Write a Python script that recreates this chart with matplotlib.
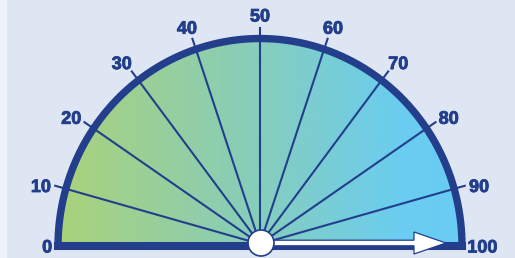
import numpy as np
import matplotlib
matplotlib.use("Agg")
import matplotlib.pyplot as plt
import matplotlib.patheffects as pe
from matplotlib.colors import LinearSegmentedColormap
from matplotlib.patches import Polygon, Circle, Rectangle

# gauge data
tick_values = [0, 10, 20, 30, 40, 50, 60, 70, 80, 90, 100]
tick_labels = ["0", "10", "20", "30", "40", "50", "60", "70", "80", "90", "100"]
needle_value = 100
vmin, vmax = 0, 100
sweep = np.radians(185)        # scale spreads a touch past the half circle
label_sweep = np.radians(188)

navy = "#233f8c"
bg = "#dfe6f3"
grad = LinearSegmentedColormap.from_list(
    "g", [(0, "#aad27a"), (0.5, "#86cdbd"), (0.85, "#6acdf0"), (1, "#68ccf4")])

# geometry in pixels
cx, cy = 260, 246
rx, ry = 202, 207.5

def ang(v, sw=sweep):
    a = np.pi / 2 + (0.5 - (v - vmin) / (vmax - vmin)) * sw
    return min(max(a, 0), np.pi)

def on_arc(v, dr=0, sw=sweep):
    a = ang(v, sw)
    return cx + (rx + dr) * np.cos(a), cy - (ry + dr) * np.sin(a)

fig = plt.figure(figsize=(5.15, 2.58), dpi=100)
ax = fig.add_axes([0, 0, 1, 1])
ax.set_xlim(0, 515)
ax.set_ylim(258, 0)
ax.axis("off")
fig.patch.set_facecolor(bg)
ax.add_patch(Rectangle((0, 0), 6, 258, color="#eef2f9", zorder=0))

# gauge outline path
t = np.linspace(np.pi, 0, 300)
xs = np.concatenate([cx + rx * np.cos(t), [cx - rx]])
ys = np.concatenate([cy - ry * np.sin(t), [cy]])
shape = Polygon(np.column_stack([xs, ys]), closed=True, facecolor="none", edgecolor="none")
ax.add_patch(shape)

gx = np.linspace(0, 1, 256).reshape(1, -1)
im = ax.imshow(gx, cmap=grad, aspect="auto", extent=[cx - rx, cx + rx, cy, cy - ry],
               interpolation="bilinear", zorder=1)
im.set_clip_path(shape)

# spokes and outer ticks
for v in tick_values[1:-1]:
    x1, y1 = on_arc(v)
    ax.plot([cx, x1], [cy - 2, y1], color=navy, lw=1.5, zorder=2)
    x2, y2 = on_arc(v, 11)
    ax.plot([x1, x2], [y1, y2], color=navy, lw=1.5, zorder=2)

ax.plot(xs, ys, color=navy, lw=5.3, solid_joinstyle="miter", zorder=3)
ax.plot([cx - rx, cx + rx], [cy, cy], color=navy, lw=5.8, solid_capstyle="projecting", zorder=3)

# labels
for v, lab in zip(tick_values, tick_labels):
    end = v in (vmin, vmax)
    a = ang(v, label_sweep)
    px, py = on_arc(v, 6 if end else 15, label_sweep)
    w, h = 9.6 * len(lab), 13
    tx = px + np.cos(a) * w / 2
    ty = py - np.sin(a) * h / 2 + (2 if end else 0)
    ax.text(tx, ty, lab, ha="center", va="center", color=navy, fontsize=13,
            fontweight="bold", family="Liberation Sans", zorder=4,
            path_effects=[pe.withStroke(linewidth=0.6, foreground=navy)])

# needle arrow
a = ang(needle_value)
L, hl, hw, sw = 185, 32, 11, 2.8
d = np.array([np.cos(a), -np.sin(a)])
n = np.array([-d[1], d[0]])
c0 = np.array([cx + 1, cy - 3])
tip = c0 + d * L
base = c0 + d * (L - hl)
pts = [c0 + n * sw, base + n * sw, base + n * hw, tip, base - n * hw, base - n * sw, c0 - n * sw]
ax.add_patch(Polygon(pts, closed=True, facecolor="white", edgecolor=navy, lw=0.9, zorder=5))
ax.add_patch(Circle((cx + 1, cy - 3), 13, facecolor="white", edgecolor=navy, lw=1.2, zorder=6))

fig.savefig("out.png", dpi=100, facecolor=bg)
